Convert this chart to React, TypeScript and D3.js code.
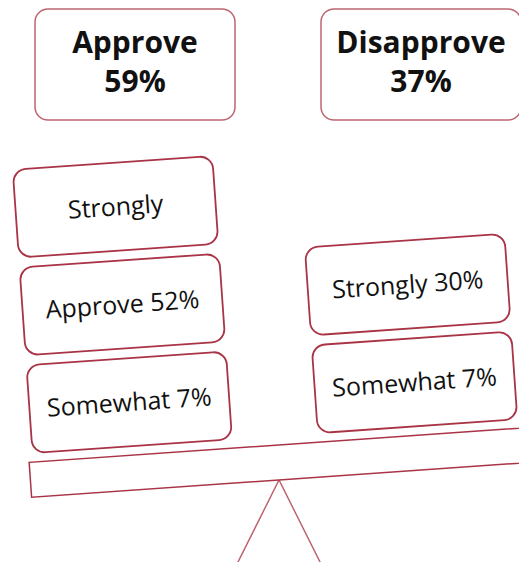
import * as d3 from "d3";

// headline totals
const sides = ["Approve", "Disapprove"];
const totals = [59, 37];

// stacked blocks, bottom to top
const approveBlocks = ["Somewhat 7%", "Approve 52%", "Strongly"];
const disapproveBlocks = ["Somewhat 7%", "Strongly 30%"];

const W = 519;
const H = 562;
const pivot = { x: 279, y: 480 };
const tilt = -4;
const boxW = 200;
const boxH = 88;
const red = "#a93446";
const lightRed = "#bd6672";

export default function App() {
  // top headline boxes
  const topX = d3.scalePoint<string>().domain(sides).range([135, 421]);

  // stacks live in the tilted frame, origin at the fulcrum tip
  const stackX = d3.scalePoint<string>().domain(sides).range([-144, 142]);
  const levelY = d3.scaleLinear().domain([0, 1]).range([-88, -186]);

  const stacks = [approveBlocks, disapproveBlocks];

  return (
    <svg
      width={W}
      height={H}
      style={{ position: "absolute", left: 0, top: 0, background: "#fff" }}
      fontFamily="'Open Sans', sans-serif"
    >
      {sides.map((s, i) => (
        <g key={s} transform={`translate(${topX(s)},9)`}>
          <rect
            x={-boxW / 2}
            y={0}
            width={boxW}
            height={111}
            rx={13}
            fill="#fff"
            stroke={lightRed}
            strokeWidth={1.5}
          />
          <text textAnchor="middle" y={44} fontSize={30} fontWeight={700} fill="#111">
            {s}
          </text>
          <text textAnchor="middle" y={83} fontSize={30} fontWeight={700} fill="#111">
            {totals[i]}%
          </text>
        </g>
      ))}

      {/* fulcrum */}
      <path
        d={d3.line()([
          [pivot.x - 60, pivot.y + 120],
          [pivot.x, pivot.y],
          [pivot.x + 60, pivot.y + 120],
        ]) as string}
        fill="none"
        stroke={lightRed}
        strokeWidth={1.5}
      />

      <g transform={`translate(${pivot.x},${pivot.y}) rotate(${tilt})`}>
        <rect x={-248} y={-35} width={540} height={35} fill="#fff" stroke={red} strokeWidth={1.5} />
        {stacks.map((blocks, si) =>
          blocks.map((label, li) => (
            <g key={si + "-" + li} transform={`translate(${stackX(sides[si])},${levelY(li)})`}>
              <rect
                x={-boxW / 2}
                y={-boxH / 2}
                width={boxW}
                height={boxH}
                rx={13}
                fill="#fff"
                stroke={red}
                strokeWidth={1.8}
              />
              <text textAnchor="middle" dy="0.35em" fontSize={25} fill="#111">
                {label}
              </text>
            </g>
          ))
        )}
      </g>
    </svg>
  );
}
